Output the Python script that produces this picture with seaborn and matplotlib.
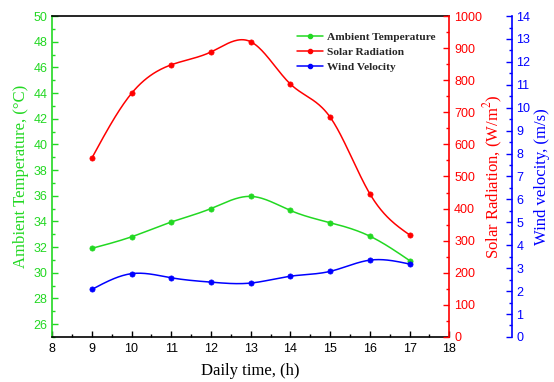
import numpy as np
import pandas as pd
import matplotlib
matplotlib.use("Agg")
import matplotlib.pyplot as plt
import seaborn as sns
from matplotlib.lines import Line2D
from matplotlib.ticker import MultipleLocator

# ---- data ----
hours = [9, 10, 11, 12, 13, 14, 15, 16, 17]
ambient_temp = [31.9, 32.8, 33.95, 35.0, 35.95, 34.85, 33.9, 32.85, 30.95]      # °C
solar_rad = [557, 759, 848, 888, 920, 788, 685, 446, 318]                        # W/m2
wind_vel = [2.07, 2.76, 2.58, 2.39, 2.35, 2.65, 2.86, 3.35, 3.18]                # m/s

GREEN = "#22D822"
RED = "#FF0000"
BLUE = "#0000FF"

sns.set_theme(style="white")
plt.rcParams["font.family"] = ["Liberation Sans", "DejaVu Sans"]
plt.rcParams["mathtext.fontset"] = "stix"


def natural_spline(x, y, n=300):
    x = np.asarray(x, float)
    y = np.asarray(y, float)
    m = len(x)
    h = np.diff(x)
    A = np.zeros((m, m))
    b = np.zeros(m)
    A[0, 0] = A[-1, -1] = 1
    for i in range(1, m - 1):
        A[i, i - 1] = h[i - 1]
        A[i, i] = 2 * (h[i - 1] + h[i])
        A[i, i + 1] = h[i]
        b[i] = 3 * ((y[i + 1] - y[i]) / h[i] - (y[i] - y[i - 1]) / h[i - 1])
    c = np.linalg.solve(A, b)
    xs = np.linspace(x[0], x[-1], n)
    ys = np.empty_like(xs)
    for k, xv in enumerate(xs):
        i = min(np.searchsorted(x, xv, side="right") - 1, m - 2)
        dx = xv - x[i]
        bb = (y[i + 1] - y[i]) / h[i] - h[i] * (2 * c[i] + c[i + 1]) / 3
        d = (c[i + 1] - c[i]) / (3 * h[i])
        ys[k] = y[i] + bb * dx + c[i] * dx ** 2 + d * dx ** 3
    return xs, ys


fig = plt.figure(figsize=(5.54, 3.82), dpi=100)
ax = fig.add_axes([0.094, 0.118, 0.717, 0.840])
ax2 = ax.twinx()
ax3 = ax.twinx()
ax3.spines["right"].set_position(("outward", 63 * 72 / 100))

df = pd.DataFrame({"h": hours, "t": ambient_temp, "s": solar_rad, "w": wind_vel})

for axis, col, color in [(ax, "t", GREEN), (ax2, "s", RED), (ax3, "w", BLUE)]:
    xs, ys = natural_spline(df["h"], df[col])
    sns.lineplot(x=xs, y=ys, ax=axis, color=color, lw=1.1, sort=False)
    sns.scatterplot(data=df, x="h", y=col, ax=axis, color=color, s=14,
                    edgecolor=color, linewidth=0.5, zorder=5)

# limits
ax.set_xlim(8, 18)
ax.set_ylim(25, 50)
ax2.set_ylim(0, 1000)
ax3.set_ylim(0, 14)

# ticks
ax.xaxis.set_major_locator(MultipleLocator(1))
ax.xaxis.set_minor_locator(MultipleLocator(0.5))
ax.set_yticks(np.arange(26, 51, 2))
ax.yaxis.set_minor_locator(MultipleLocator(1))
ax2.yaxis.set_major_locator(MultipleLocator(100))
ax2.yaxis.set_minor_locator(MultipleLocator(50))
ax3.yaxis.set_major_locator(MultipleLocator(1))
ax3.yaxis.set_minor_locator(MultipleLocator(0.5))

TS = 9
ax.tick_params(axis="x", which="major", direction="in", length=4, width=1,
               colors="black", labelsize=TS, pad=4.5, top=False, bottom=True)
ax.tick_params(axis="x", which="minor", direction="in", length=2, width=1,
               colors="black", bottom=True)
ax.tick_params(axis="y", which="major", direction="in", length=4, width=1,
               colors=GREEN, labelsize=TS, pad=3.5, left=True)
ax.tick_params(axis="y", which="minor", direction="in", length=2, width=1,
               colors=GREEN, left=True)
ax2.tick_params(axis="y", which="major", direction="in", length=4, width=1,
                colors=RED, labelsize=TS, pad=3.5, right=True)
ax2.tick_params(axis="y", which="minor", direction="in", length=2, width=1,
                colors=RED, right=True)
ax3.tick_params(axis="y", which="major", direction="in", length=4, width=1,
                colors=BLUE, labelsize=TS, pad=3, right=True)
ax3.tick_params(axis="y", which="minor", direction="in", length=2, width=1,
                colors=BLUE, right=True)

# spines
for sp in ax.spines.values():
    sp.set_visible(False)
ax.spines["left"].set_visible(True)
ax.spines["left"].set_color(GREEN)
ax.spines["bottom"].set_visible(True)
ax.spines["bottom"].set_color("black")
ax.spines["top"].set_visible(True)
ax.spines["top"].set_color("black")
for sp in ax2.spines.values():
    sp.set_visible(False)
ax2.spines["right"].set_visible(True)
ax2.spines["right"].set_color(RED)
for sp in ax3.spines.values():
    sp.set_visible(False)
ax3.spines["right"].set_visible(True)
ax3.spines["right"].set_color(BLUE)
for a in (ax, ax2, ax3):
    for sp in a.spines.values():
        sp.set_linewidth(1.2)

serif = ["Liberation Serif", "DejaVu Serif"]
LS = 12
ax.set_xlabel("Daily time, (h)", family=serif, fontsize=LS, color="black")
ax.set_ylabel("Ambient Temperature, (°C)", family=serif, fontsize=LS, color=GREEN)
ax2.set_ylabel("Solar Radiation, (W/m$^2$)", family=serif, fontsize=LS, color=RED)
ax3.set_ylabel("Wind velocity, (m/s)", family=serif, fontsize=LS, color=BLUE)
ax.xaxis.set_label_coords(0.5, -0.082)
ax.yaxis.set_label_coords(-0.057, 0.5)
ax2.yaxis.set_label_coords(1.081, 0.5)
ax3.yaxis.set_label_coords(1.212, 0.5)

handles = [Line2D([], [], color=GREEN, marker="o", ms=3, lw=1.1),
           Line2D([], [], color=RED, marker="o", ms=3, lw=1.1),
           Line2D([], [], color=BLUE, marker="o", ms=3, lw=1.1)]
labels = ["Ambient Temperature", "Solar Radiation", "Wind Velocity"]
ax.legend(handles, labels, loc="upper left", bbox_to_anchor=(0.617, 0.95),
          frameon=False, prop={"family": serif, "weight": "bold", "size": 8.2},
          handlelength=2.3, handletextpad=0.35, labelspacing=0.45,
          borderpad=0, borderaxespad=0)

fig.savefig("out.png", dpi=100)
